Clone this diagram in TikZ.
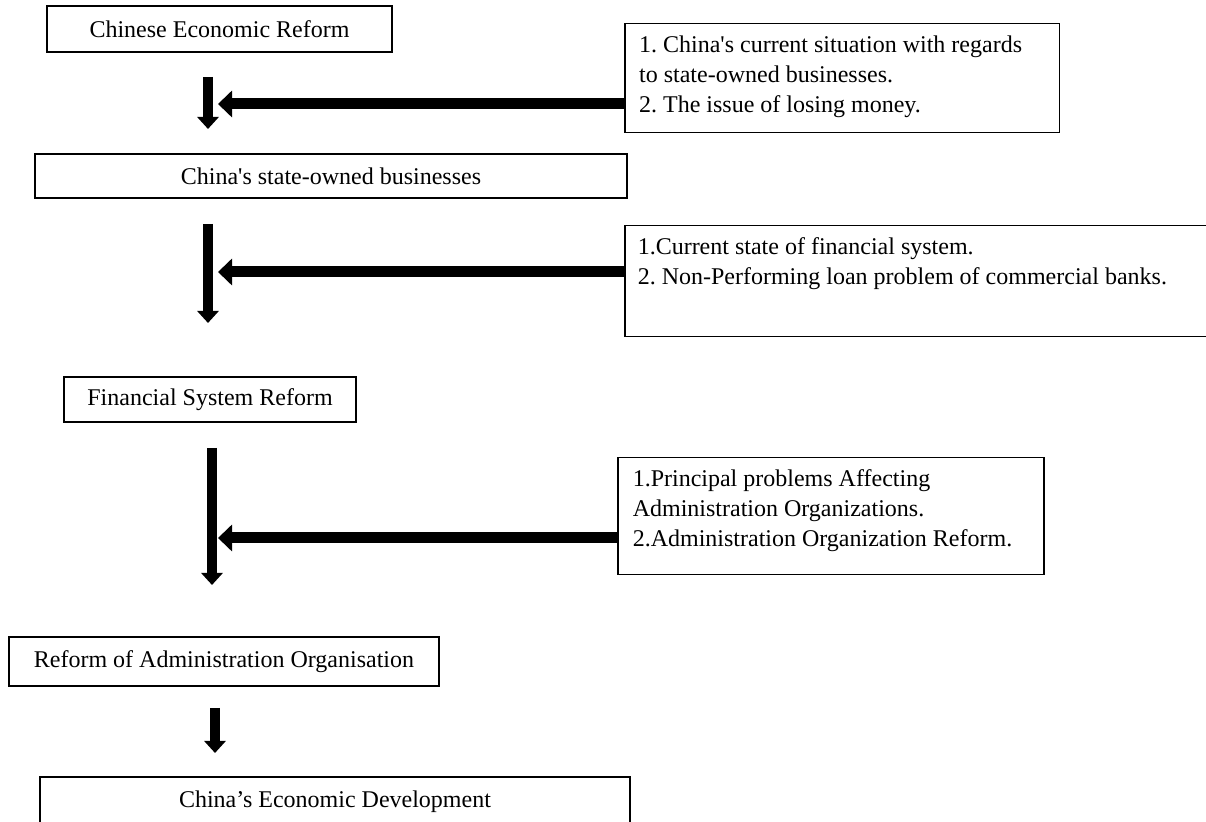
\documentclass[tikz,border=0pt]{standalone}
\usepackage{fontspec}
\setmainfont{Liberation Serif}
\usetikzlibrary{arrows.meta}

\tikzset{
    box/.style={draw, line width=0.75pt, inner sep=0pt, align=center},
    note/.style={draw, line width=0.75pt, anchor=north west, align=flush left, inner xsep=7.2pt, inner ysep=6pt},
    downarrow/.style={line width=5pt, -{Triangle[length=6pt,width=10.5pt]}},
    sidearrow/.style={line width=5.5pt, -{Triangle[length=7pt,width=13pt]}}
}

\begin{document}
\begin{tikzpicture}[x=0.5pt, y=-0.5pt, font=\fontsize{12pt}{15pt}\selectfont\frenchspacing]
    \useasboundingbox (0,0) rectangle (1206,822);
    \clip (0,0) rectangle (1206,822);

    % Main chain
    \node[box, minimum width=172.5pt, minimum height=23pt] (reform) at (219.5,29) {Chinese Economic Reform};
    \node[box, minimum width=296pt, minimum height=22pt] (soe) at (331,176) {China\textquotesingle s state-owned businesses};
    \node[box, minimum width=146pt, minimum height=22.5pt] (finance) at (210,399.5) {Financial System Reform};
    \node[box, minimum width=215pt, minimum height=24.5pt] (admin) at (224,661.5) {Reform of Administration Organisation};
    \node[box, minimum width=295pt, minimum height=25pt] (growth) at (335,802) {China’s Economic Development};

    % Side notes
    \node[note, text width=203pt, text depth=34pt] (note1) at (624,23) {1. China\textquotesingle s current situation with regards\\ to state-owned businesses.\\ 2. The issue of losing money.};
    \node[note, text width=290pt, inner xsep=6.5pt, text depth=35pt] (note2) at (624,225) {1.Current state of financial system.\\ 2. Non-Performing loan problem of commercial banks.};
    \node[note, text width=198pt, inner xsep=7.5pt, text depth=38pt] (note3) at (617,457) {1.Principal problems Affecting\\ Administration Organizations.\\ 2.Administration Organization Reform.};

    % Arrow ends
    \coordinate (d1a) at (208,77);  \coordinate (d1b) at (208,129);
    \coordinate (d2a) at (208,224); \coordinate (d2b) at (208,323);
    \coordinate (d3a) at (212,448); \coordinate (d3b) at (212,585);
    \coordinate (d4a) at (215,708); \coordinate (d4b) at (215,753);
    \coordinate (s1) at (218,104);
    \coordinate (s2) at (218,272);
    \coordinate (s3) at (218,538);

    % Arrows
    \draw[downarrow] (d1a) -- (d1b);
    \draw[downarrow] (d2a) -- (d2b);
    \draw[downarrow] (d3a) -- (d3b);
    \draw[downarrow] (d4a) -- (d4b);
    \draw[sidearrow] (note1.west |- s1) -- (s1);
    \draw[sidearrow] (note2.west |- s2) -- (s2);
    \draw[sidearrow] (note3.west |- s3) -- (s3);
\end{tikzpicture}
\end{document}
